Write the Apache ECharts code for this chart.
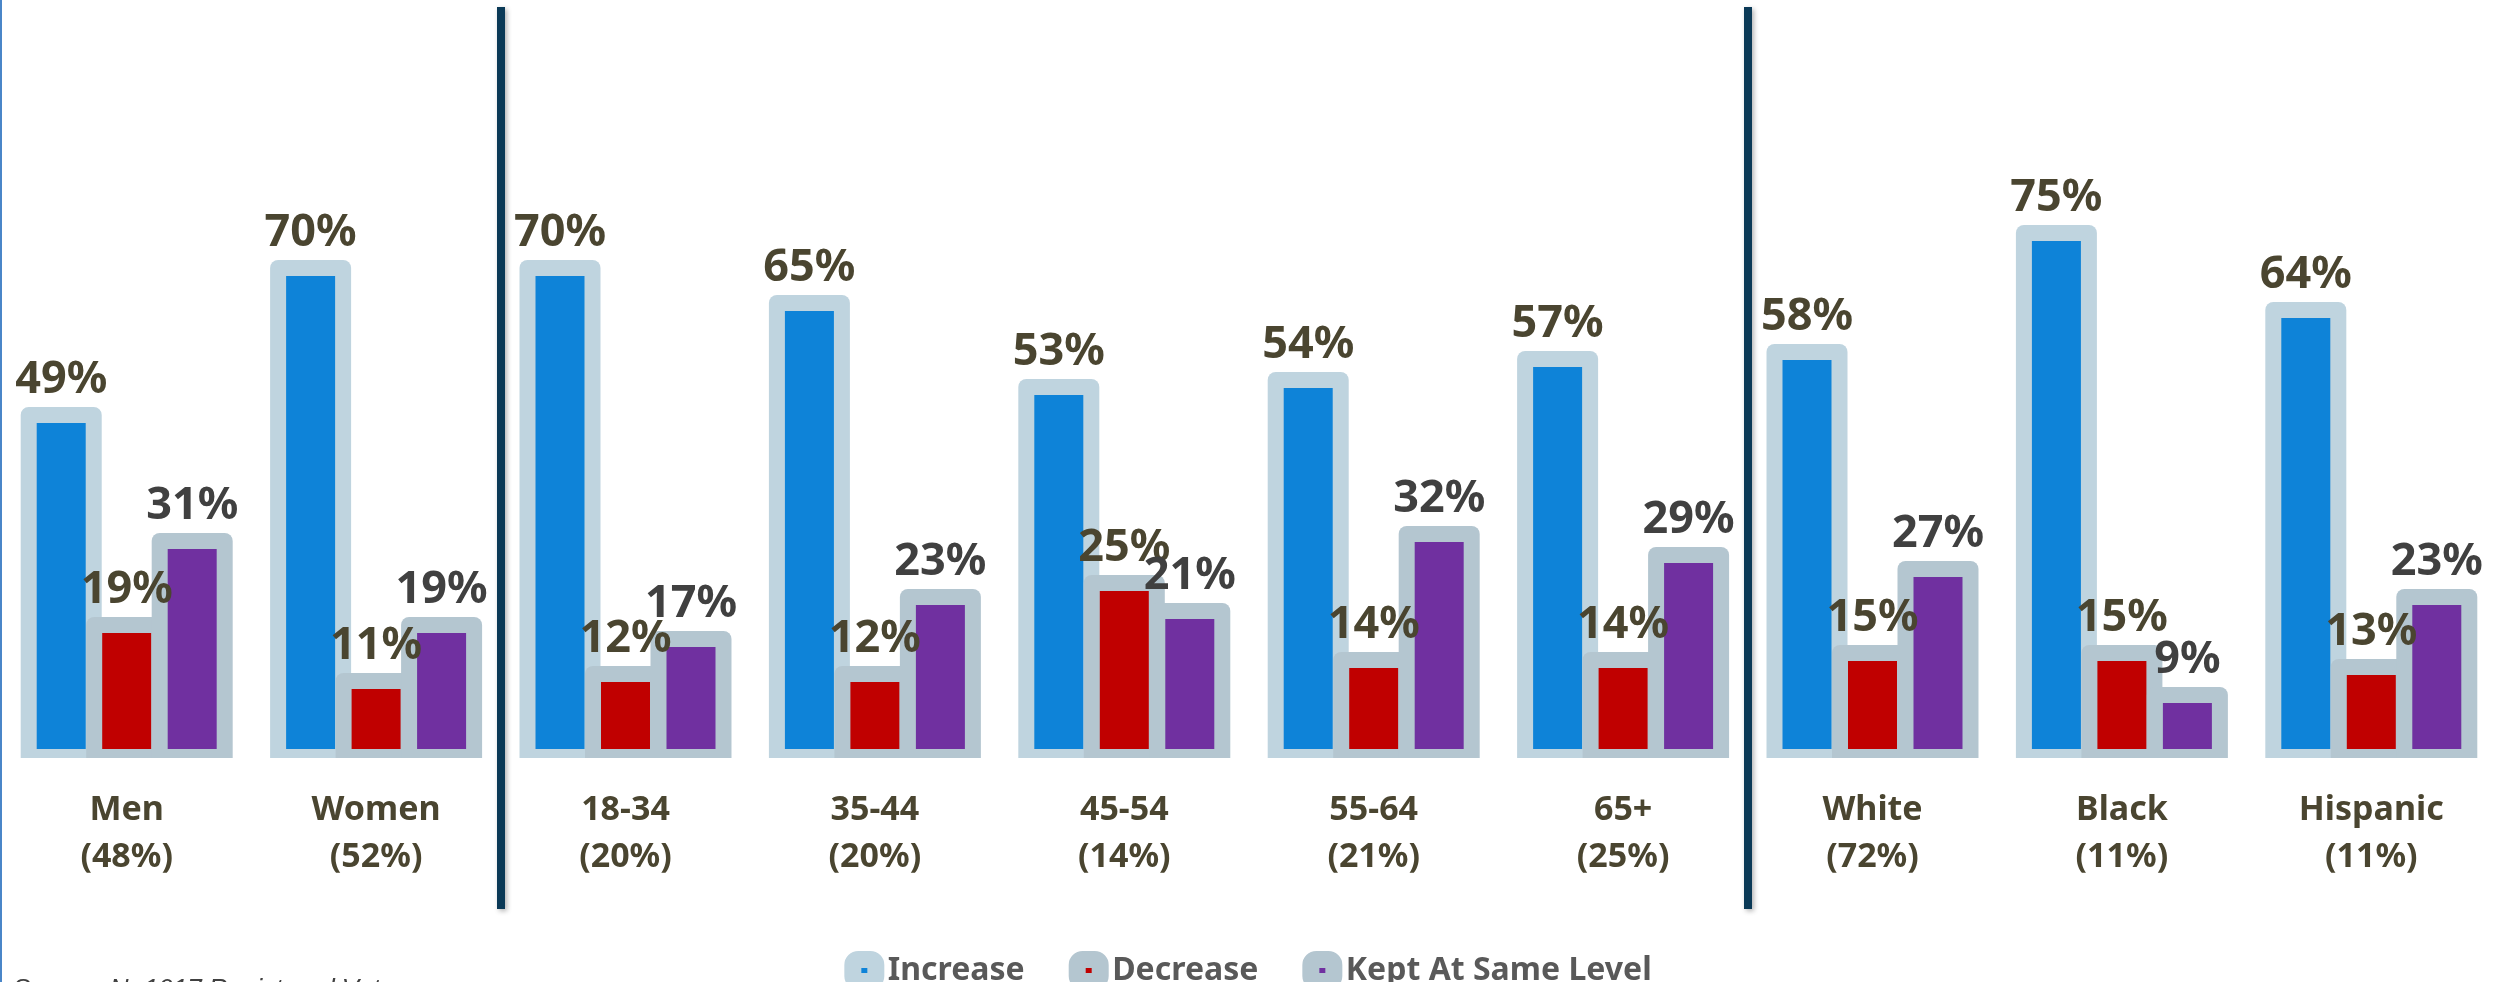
<!DOCTYPE html>
<html>
<head>
<meta charset="utf-8">
<title>Increase / Decrease / Kept At Same Level</title>
<script src="https://cdn.jsdelivr.net/npm/echarts@6/dist/echarts.min.js"></script>
<style>
    html, body { margin: 0; padding: 0; background: #fff; }
    #chart { width: 2496px; height: 982px; }
</style>
</head>
<body>
<div id="chart"></div>
<script>
// groups and their share of the sample
const groups = ["Men", "Women", "18-34", "35-44", "45-54", "55-64", "65+", "White", "Black", "Hispanic"];
const shares = ["48%", "52%", "20%", "20%", "14%", "21%", "25%", "72%", "11%", "11%"];

// percentages per group
const increase = [49, 70, 70, 65, 53, 54, 57, 58, 75, 64];
const decrease = [19, 11, 12, 12, 25, 14, 14, 15, 15, 13];
const kept = [31, 19, 17, 23, 21, 32, 29, 27, 9, 23];

const seriesNames = ["Increase", "Decrease", "Kept At Same Level"];
// last group index before each divider line
const dividerAfter = [1, 6];

const categories = groups.map((g, i) => g + "\n(" + shares[i] + ")");

const barColors = ["#0e83d8", "#c00000", "#7030a0"];
const frameColors = ["#bfd4df", "#b4c6d0", "#b4c6d0"];
const labelColors = ["#4a4530", "#4a4530", "#404040"];
const FONT = "Noto Sans";

function renderBar(params, api) {
    const s = params.seriesIndex;
    const idx = api.value(0);
    const val = api.value(1);
    const top = api.coord([idx, val]);
    const base = api.coord([idx, 0]);
    const band = api.size([1, 0])[0];
    const cx = top[0] + (s - 1) * band * 0.2626;
    return {
        type: "group",
        children: [
            {
                type: "rect",
                shape: { x: cx - 40.5, y: top[1] - 16, width: 81, height: base[1] - 8 - (top[1] - 16), r: [8, 8, 0, 0] },
                style: { fill: frameColors[s] }
            },
            {
                type: "rect",
                shape: { x: cx - 24.5, y: top[1], width: 49, height: base[1] - 17 - top[1] },
                style: { fill: api.visual("color") }
            },
            {
                type: "text",
                z2: 100,
                style: {
                    text: val + "%",
                    x: cx,
                    y: top[1] - 20,
                    align: "center",
                    verticalAlign: "bottom",
                    fontSize: 45,
                    fontWeight: "bold",
                    fontFamily: FONT,
                    fill: labelColors[s]
                }
            }
        ]
    };
}

const chart = echarts.init(document.getElementById("chart"));

chart.setOption({
    animation: false,
    grid: { left: 2, right: 0, top: 66, bottom: 216 },
    xAxis: {
        type: "category",
        data: categories,
        axisLine: { show: false },
        axisTick: { show: false },
        axisLabel: {
            margin: 21,
            fontSize: 34,
            fontWeight: "bold",
            lineHeight: 47,
            color: "#4a4530",
            fontFamily: FONT
        }
    },
    yAxis: {
        type: "value",
        min: 0,
        max: 100,
        show: false
    },
    legend: {
        left: "center",
        top: 946,
        icon: "roundRect",
        itemWidth: 23,
        itemHeight: 22,
        itemGap: 44,
        textStyle: {
            fontSize: 32,
            fontWeight: "bold",
            color: "#595959",
            fontFamily: FONT,
            padding: [0, 0, 0, 7]
        },
        data: seriesNames.map((n, i) => ({
            name: n,
            itemStyle: { color: barColors[i], borderColor: frameColors[i], borderWidth: 17 }
        }))
    },
    series: [increase, decrease, kept].map((vals, i) => ({
        name: seriesNames[i],
        type: "custom",
        renderItem: renderBar,
        itemStyle: { color: barColors[i] },
        encode: { x: 0, y: 1 },
        data: vals.map((v, j) => [j, v])
    }))
});

// divider lines between the sex / age / race groups, placed from the category axis
const dividers = dividerAfter.map(i => {
    const a = chart.convertToPixel({ xAxisIndex: 0 }, categories[i]);
    const b = chart.convertToPixel({ xAxisIndex: 0 }, categories[i + 1]);
    const x = Math.round((a + b) / 2);
    return {
        type: "line",
        shape: { x1: x, y1: 7, x2: x, y2: 909 },
        style: {
            stroke: "#0b3a57",
            lineWidth: 8,
            shadowBlur: 5,
            shadowColor: "rgba(0,0,0,0.3)",
            shadowOffsetX: 2,
            shadowOffsetY: 2
        }
    };
});

chart.setOption({
    graphic: [
        { type: "rect", left: 0, top: 0, shape: { width: 2, height: 982 }, style: { fill: "#4a86c8" } },
        {
            type: "text",
            left: 13,
            top: 977,
            style: {
                text: "Source: N=1017 Registered Voters",
                fontSize: 26,
                fontStyle: "italic",
                fontFamily: "Liberation Sans",
                fill: "#404040"
            }
        }
    ].concat(dividers)
});
</script>
</body>
</html>
